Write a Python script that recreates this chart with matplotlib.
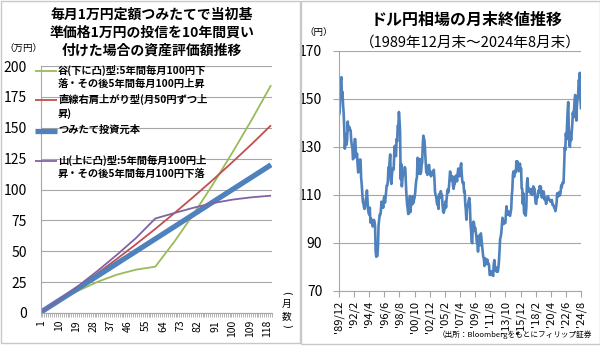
import matplotlib
matplotlib.use("Agg")
import matplotlib.pyplot as plt
from matplotlib.patches import Rectangle
from matplotlib.lines import Line2D

plt.rcParams["font.family"] = ["Noto Sans CJK JP", "DejaVu Sans"]

# ---------------- data: accumulation simulation (万円) ----------------
months = [1, 10, 20, 30, 40, 50, 60, 70, 80, 90, 100, 110, 120]
valley = [1.0, 9.5, 18.0, 25.2, 31.0, 35.1, 37.5, 58.0, 80.5, 104.5, 130.0, 156.5, 184.5]
straight = [1.0, 10.2, 20.9, 32.1, 43.7, 55.7, 68.1, 81.0, 94.3, 108.0, 122.2, 136.8, 152.0]
principal = [1, 10, 20, 30, 40, 50, 60, 70, 80, 90, 100, 110, 120]
mountain = [1.0, 10.4, 21.8, 34.0, 47.0, 60.7, 76.5, 81.0, 85.3, 89.0, 91.8, 93.7, 95.0]
month_ticks = [1, 10, 19, 28, 37, 46, 55, 64, 73, 82, 91, 100, 109, 118]

series_labels = [
    "谷(下に凸)型:5年間毎月100円下\n落・その後5年間毎月100円上昇",
    "直線右肩上がり型(月50円ずつ上\n昇)",
    "つみたて投資元本",
    "山(上に凸)型:5年間毎月100円上\n昇・その後5年間毎月100円下落",
]

# ---------------- data: USD/JPY month-end close, 1989/12 - 2024/8 ----------------
usdjpy = [
    143.4,
    144.3, 149.9, 157.6, 159.1, 152.1, 152.9, 147.4, 144.3, 137.9, 129.3, 132.7, 135.4,  # 1990
    131.0, 133.0, 140.6, 137.0, 138.5, 138.2, 137.3, 136.9, 132.7, 130.6, 129.9, 124.9,  # 1991
    125.4, 129.2, 133.3, 133.2, 127.7, 125.6, 127.2, 122.6, 119.4, 123.2, 124.4, 124.8,  # 1992
    124.7, 117.3, 114.6, 111.0, 107.1, 106.5, 104.9, 104.2, 105.3, 108.3, 109.0, 111.9,  # 1993
    108.1, 104.0, 102.4, 101.8, 104.7, 98.5, 100.2, 99.5, 98.6, 96.9, 98.9, 99.6,        # 1994
    99.0, 96.9, 86.5, 84.3, 84.4, 84.6, 88.4, 97.3, 99.6, 101.9, 101.7, 103.4,           # 1995
    107.2, 104.9, 106.3, 104.7, 108.4, 109.5, 106.8, 108.8, 111.4, 114.0, 113.9, 115.8,  # 1996
    121.5, 120.3, 124.0, 126.9, 116.4, 114.6, 118.4, 120.9, 120.6, 120.6, 127.6, 130.5,  # 1997
    127.0, 126.2, 133.3, 132.4, 138.9, 138.4, 144.6, 141.2, 136.3, 116.6, 122.9, 113.6,  # 1998
    116.5, 118.7, 119.1, 119.4, 121.6, 121.1, 114.5, 109.8, 106.2, 104.5, 102.1, 102.2,  # 1999
    107.1, 109.6, 102.9, 108.2, 107.7, 106.1, 109.5, 106.7, 108.1, 109.0, 111.0, 114.4,  # 2000
    116.4, 117.4, 125.5, 123.6, 118.9, 124.7, 125.0, 118.8, 119.3, 122.4, 123.6, 131.0,  # 2001
    134.7, 133.5, 132.7, 128.5, 124.0, 119.4, 119.9, 118.4, 121.7, 122.5, 122.5, 118.7,  # 2002
    119.9, 117.8, 118.1, 118.9, 119.3, 119.8, 120.5, 116.9, 111.5, 109.9, 109.5, 107.2,  # 2003
    105.9, 109.1, 104.2, 110.3, 109.6, 108.9, 111.6, 109.2, 110.1, 105.8, 103.2, 102.6,  # 2004
    103.6, 104.6, 107.3, 104.8, 108.4, 110.9, 112.3, 111.1, 113.4, 116.4, 119.8, 117.8,  # 2005
    117.2, 115.9, 117.8, 113.8, 112.6, 114.4, 114.6, 117.4, 118.1, 116.9, 115.7, 119.0,  # 2006
    121.0, 118.6, 117.8, 119.6, 121.8, 123.2, 118.7, 115.8, 114.8, 115.3, 111.2, 111.7,  # 2007
    106.4, 103.8, 99.7, 104.0, 105.5, 106.2, 107.9, 108.8, 106.0, 98.5, 95.5, 90.6,      # 2008
    89.9, 97.6, 98.9, 98.6, 95.3, 96.4, 94.7, 93.0, 89.8, 90.1, 86.4, 93.0,              # 2009
    90.3, 89.0, 93.5, 94.0, 91.3, 88.4, 86.4, 84.2, 83.5, 80.4, 83.7, 81.1,              # 2010
    82.1, 81.8, 83.1, 81.2, 81.5, 80.6, 76.7, 76.7, 77.0, 78.2, 77.6, 76.9,              # 2011
    76.3, 81.2, 82.9, 80.0, 78.4, 79.8, 78.1, 78.4, 78.0, 79.8, 82.5, 86.7,              # 2012
    91.7, 92.6, 94.2, 97.5, 100.5, 99.1, 97.9, 98.2, 98.3, 98.4, 102.4, 105.3,           # 2013
    102.0, 101.8, 103.2, 102.2, 101.8, 101.3, 102.8, 104.1, 109.7, 112.3, 118.6, 119.8,  # 2014
    117.5, 119.6, 120.1, 119.4, 124.1, 122.5, 123.9, 121.2, 119.9, 120.6, 123.1, 120.2,  # 2015
    121.1, 112.7, 112.6, 106.3, 110.7, 102.7, 102.1, 103.4, 101.4, 104.8, 114.5, 117.0,  # 2016
    112.8, 112.8, 111.4, 111.5, 110.8, 112.4, 110.3, 110.0, 112.5, 113.6, 112.5, 112.7,  # 2017
    109.2, 106.7, 106.3, 109.4, 108.8, 110.8, 111.9, 111.0, 113.7, 112.9, 113.5, 109.6,  # 2018
    108.9, 111.4, 110.9, 111.4, 108.3, 107.9, 108.8, 106.3, 108.1, 108.0, 109.5, 108.6,  # 2019
    108.4, 107.9, 107.5, 107.2, 107.8, 107.9, 105.9, 105.9, 105.5, 104.7, 104.3, 103.3,  # 2020
    104.7, 106.6, 110.7, 109.3, 109.6, 111.1, 109.7, 110.0, 111.3, 114.0, 113.2, 115.1,  # 2021
    115.1, 115.0, 121.7, 129.8, 128.7, 135.7, 133.2, 138.9, 144.7, 148.7, 138.1, 131.1,  # 2022
    130.1, 136.2, 132.8, 136.3, 139.3, 144.3, 142.3, 145.5, 149.4, 151.7, 148.2, 141.0,  # 2023
    147.0, 150.0, 151.3, 157.8, 157.3, 160.9, 150.0, 146.2,                              # 2024
]
date_labels = ["'89/12", "'92/2", "'94/4", "'96/6", "'98/8", "'00/10", "'02/12",
               "'05/2", "'07/4", "'09/6", "'11/8", "'13/10", "'15/12", "'18/2",
               "'20/4", "'22/6", "'24/8"]
label_step = 26

# ---------------- figure ----------------
W, H = 600, 347
fig = plt.figure(figsize=(W / 100, H / 100), dpi=100)
fig.patch.set_facecolor("white")


def fx(px):
    return px / W


def fy(py):
    return 1 - py / H


GRID = "#a6a6a6"
BORDER = "#c8c8c8"
C_BLUE, C_RED, C_GREEN, C_PURPLE = "#4F81BD", "#C0504D", "#9BBB59", "#8064A2"

# panel frames
fig.add_artist(Rectangle((fx(0.5), fy(342.5)), fx(299.5) - fx(0.5), fy(0.5) - fy(342.5),
                         transform=fig.transFigure, fill=False, ec=BORDER, lw=1))
fig.add_artist(Rectangle((fx(300.5), fy(344)), fx(599.5) - fx(300.5), fy(0.5) - fy(344),
                         transform=fig.transFigure, fill=False, ec=BORDER, lw=1))

# ---------------- left chart ----------------
axL = fig.add_axes([fx(40.5), fy(313), fx(272) - fx(40.5), fy(66) - fy(313)])
axL.set_xlim(0.5, 120.5)
axL.set_ylim(0, 200)
axL.set_yticks(range(0, 201, 25))
axL.yaxis.grid(True, color=GRID, lw=0.8)
axL.set_axisbelow(True)
for s in ("top", "right"):
    axL.spines[s].set_visible(False)
for s in ("left", "bottom"):
    axL.spines[s].set_color(GRID)
    axL.spines[s].set_linewidth(0.8)
axL.tick_params(axis="y", length=0, pad=10, labelsize=10)
axL.set_xticks(month_ticks)
axL.set_xticklabels([str(m) for m in month_ticks], rotation=90, fontsize=7.5)
axL.set_xticks([m + 0.5 for m in range(0, 121)], minor=True)
axL.tick_params(axis="x", which="major", length=0, pad=5)
axL.tick_params(axis="x", which="minor", length=3, color=GRID, width=0.6)

colors = [C_GREEN, C_RED, C_BLUE, C_PURPLE]
widths = [1.3, 1.3, 3.8, 1.3]
for vals, c, w in zip([valley, straight, principal, mountain], colors, widths):
    axL.plot(months, vals, color=c, lw=w, solid_capstyle="butt")

# titles and labels
for i, line in enumerate(["毎月1万円定額つみたてで当初基",
                          "準価格1万円の投信を10年間買い",
                          "付けた場合の資産評価額推移"]):
    fig.text(fx(152), fy(15 + 18 * i), line, ha="center", va="center",
             fontsize=10, fontweight="bold")
fig.text(fx(4), fy(48), "（万円）", ha="left", va="center", fontsize=6.8)
# vertical unit label: brackets turned, characters upright
fig.text(fx(287), fy(293), "(", ha="center", va="center", fontsize=7,
         rotation=-90, family="DejaVu Sans")
fig.text(fx(287), fy(304), "月", ha="center", va="center", fontsize=7)
fig.text(fx(287), fy(316), "数", ha="center", va="center", fontsize=7)
fig.text(fx(287), fy(326), ")", ha="center", va="center", fontsize=7,
         rotation=-90, family="DejaVu Sans")

# legend drawn beside the series
legend_rows = [71, 100, 131, 161]
for lab, c, w, yy in zip(series_labels, colors, widths, legend_rows):
    fig.add_artist(Line2D([fx(35), fx(57)], [fy(yy), fy(yy)], color=c, lw=w,
                          transform=fig.transFigure, solid_capstyle="butt"))
    fig.text(fx(58), fy(yy - 6), lab, ha="left", va="top", fontsize=7.4,
             fontweight="bold", linespacing=1.4)

# ---------------- right chart ----------------
axR = fig.add_axes([fx(339), fy(291), fx(581) - fx(339), fy(51) - fy(291)])
n = len(usdjpy)
axR.set_xlim(0, n - 1)
axR.set_ylim(70, 170)
axR.set_yticks(range(70, 171, 20))
axR.yaxis.grid(True, color=GRID, lw=0.8)
axR.set_axisbelow(True)
for s in ("top", "right"):
    axR.spines[s].set_visible(False)
for s in ("left", "bottom"):
    axR.spines[s].set_color(GRID)
    axR.spines[s].set_linewidth(0.8)
axR.tick_params(axis="y", length=4, color=GRID, pad=8, labelsize=10)
axR.set_xticks([i * label_step for i in range(len(date_labels))])
axR.set_xticklabels(date_labels, rotation=90, fontsize=8)
axR.tick_params(axis="x", length=4, color=GRID, pad=3)
axR.plot(range(n), usdjpy, color=C_BLUE, lw=1.9)

fig.text(fx(467), fy(20), "ドル円相場の月末終値推移", ha="center", va="center",
         fontsize=11.5, fontweight="bold")
fig.text(fx(470), fy(43), "（1989年12月末～2024年8月末）", ha="center", va="center",
         fontsize=10.5)
fig.text(fx(304), fy(32), "（円）", ha="left", va="center", fontsize=6.8)
fig.text(fx(592), fy(335), "（出所：Bloombergをもとにフィリップ証券", ha="right",
         va="center", fontsize=5.5)

fig.savefig("out.png", dpi=100, facecolor="white")
